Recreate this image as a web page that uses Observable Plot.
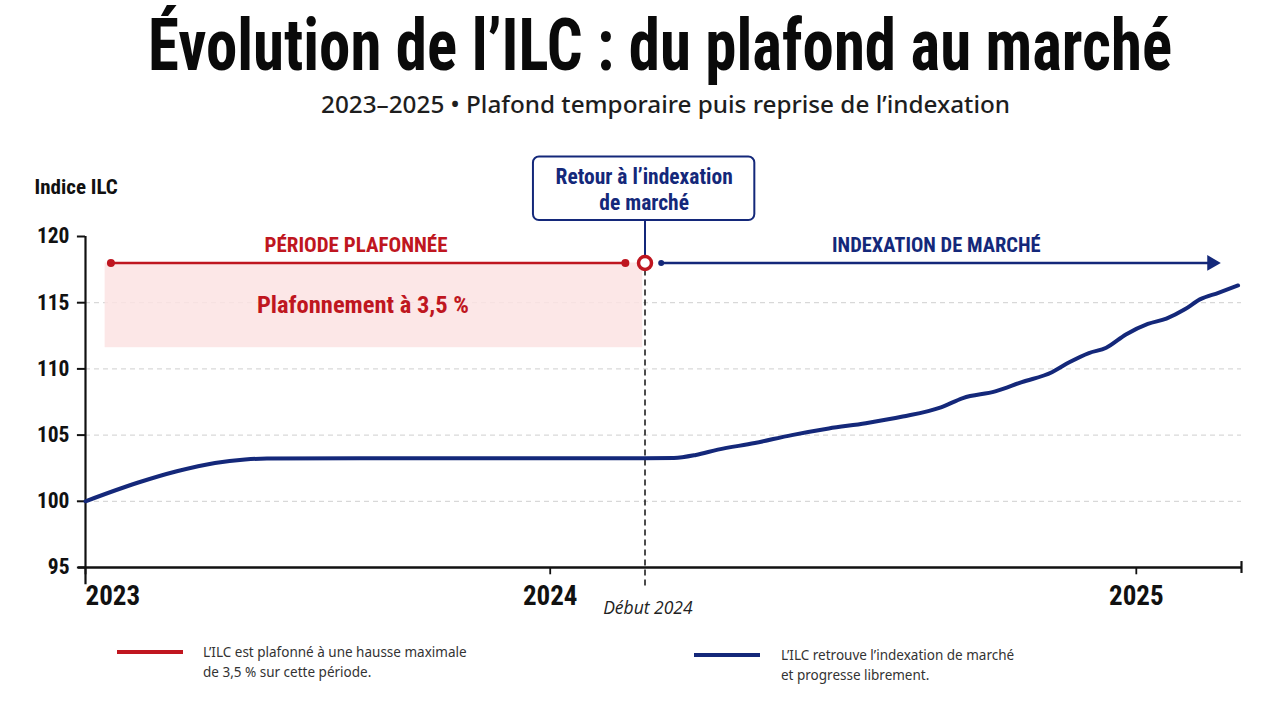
<!DOCTYPE html>
<html lang="fr">
<head>
<meta charset="utf-8">
<title>Évolution de l’ILC : du plafond au marché</title>
<script src="https://cdn.jsdelivr.net/npm/d3@7"></script>
<script src="https://cdn.jsdelivr.net/npm/@observablehq/plot@0.6"></script>
<style>
  html, body { margin: 0; padding: 0; background: #fff; }
  body { width: 1280px; height: 702px; position: relative; overflow: hidden; font-family: "Noto Sans", "Open Sans", sans-serif; color: #111; }
  .cond { font-family: "Roboto Condensed", "Liberation Sans Narrow", "DejaVu Sans Condensed", sans-serif; font-stretch: condensed; }
  #title { position: absolute; left: 0; top: 4px; width: 1320px; text-align: center; font-size: 72px; font-weight: 700; line-height: 84px; color: #0a0a0a; white-space: nowrap; }
  #title span { display: inline-block; transform-origin: 50% 50%; }
  #subtitle { position: absolute; left: 0; top: 87px; width: 1332px; text-align: center; font-size: 24px; font-weight: 500; line-height: 34px; color: #1e1e1e; white-space: nowrap; }
  #subtitle span { display: inline-block; transform-origin: 50% 50%; }
  #chart { position: absolute; left: 0; top: 140px; }
  .legend-swatch { position: absolute; height: 4px; }
  .legend-text { position: absolute; font-size: 13.5px; line-height: 20px; color: #333; white-space: nowrap; }
</style>
</head>
<body>
<div id="title" class="cond"><span>Évolution de l’ILC : du plafond au marché</span></div>
<div id="subtitle"><span>2023–2025 • Plafond temporaire puis reprise de l’indexation</span></div>
<div id="chart"></div>

<div class="legend-swatch" style="left:117px; top:650px; width:66px; background:#c0161f;"></div>
<div class="legend-text" style="left:203px; top:642px;">L’ILC est plafonné à une hausse maximale<br>de 3,5 % sur cette période.</div>
<div class="legend-swatch" style="left:694px; top:653px; width:66px; background:#14287a;"></div>
<div class="legend-text" style="left:781px; top:645px;">L’ILC retrouve l’indexation de marché<br>et progresse librement.</div>

<script>
// Position along the period (0 = début 2023, 100 = fin de la série)
const periode = [0, 4.5, 7.9, 11.2, 13.8, 15.7, 30, 48.4, 50.9, 52.8, 54.7, 57.9, 61.1, 64.3, 67.5, 70.7, 74.0, 75.9, 78.7, 81.0, 83.6, 85.1, 86.8, 88.3, 90.0, 91.9, 93.5, 95.1, 96.4, 98.0, 99.7];
// Indice ILC (base 100 début 2023)
const indice = [100, 101.4, 102.27, 102.9, 103.16, 103.23, 103.25, 103.25, 103.27, 103.5, 103.9, 104.4, 105.0, 105.5, 105.9, 106.4, 107.1, 107.8, 108.3, 109.0, 109.75, 110.5, 111.2, 111.6, 112.6, 113.4, 113.8, 114.5, 115.25, 115.75, 116.3];

// Axes
const xTicks = [0, 40.2, 90.9];
const xTickLabels = ["2023", "2024", "2025"];
const xEnd = 100;
const yTicks = [95, 100, 105, 110, 115, 120];
const gridLevels = [100, 105, 110, 115];

// Annotations
const reprise = 48.4;                 // début 2024
const repriseLabel = "Début 2024";
const niveauBandeau = 118;
const periodePlafonnee = [2.2, 46.7];
const periodeMarche = [49.8, 97.6];
const zonePlafond = {x1: 1.7, x2: 48.2, y1: 111.6, y2: 118};
const labelsPeriodes = ["PÉRIODE PLAFONNÉE", "INDEXATION DE MARCHÉ"];
const labelsPeriodesX = [23.4, 73.6];
const labelPlafond = "Plafonnement à 3,5 %";
const encadre = {x1: 38.75, x2: 57.9, y1: 121.2, y2: 126, texte: "Retour à l’indexation\nde marché"};
const titreAxeY = "Indice ILC";

const data = periode.map((t, i) => ({t, v: indice[i]}));

const ROUGE = "#bf1620";
const BLEU = "#14287a";
const COND = "Roboto Condensed, Liberation Sans Narrow, DejaVu Sans Condensed, sans-serif";

const chart = Plot.plot({
  width: 1280,
  height: 480,
  marginLeft: 85,
  marginRight: 39,
  marginTop: 96,
  marginBottom: 53,
  x: {type: "linear", domain: [0, xEnd], axis: null},
  y: {type: "linear", domain: [95, 120], axis: null},
  style: {fontFamily: COND, overflow: "visible"},
  marks: [
    // horizontal dashed grid
    Plot.ruleY(gridLevels, {x1: 0, x2: xEnd, stroke: "#cfcfcf", strokeWidth: 1, strokeDasharray: "5,4"}),
    // capped zone
    Plot.rect([zonePlafond], {x1: "x1", x2: "x2", y1: "y1", y2: "y2", fill: "#fbe3e3", fillOpacity: 0.85}),
    Plot.text([labelPlafond], {x: labelsPeriodesX[0] + 0.6, y: 114.8, fill: ROUGE, fontSize: 24.5, fontWeight: "bold", fontFamily: COND}),
    // y axis
    Plot.ruleX([0], {y1: 93.7, y2: 120, stroke: "#111", strokeWidth: 2.2}),
    Plot.ruleY(yTicks, {x1: -0.7, x2: 0, stroke: "#111", strokeWidth: 2}),
    Plot.text(yTicks, {x: 0, y: d => d, dx: -16, textAnchor: "end", fontSize: 21.5, fontWeight: "bold", fontFamily: COND, fill: "#111"}),
    Plot.text([titreAxeY], {x: -4.41, y: 123.7, textAnchor: "start", fontSize: 21, fontWeight: "bold", fontFamily: COND, fill: "#111"}),
    // x axis
    Plot.ruleY([95], {x1: -0.6, x2: xEnd, stroke: "#111", strokeWidth: 2.5}),
    Plot.ruleX(xTicks, {y1: 95, y2: 94.45, stroke: "#111", strokeWidth: 1.8}),
    Plot.ruleX([xEnd], {y1: 95.45, y2: 94.55, stroke: "#111", strokeWidth: 2.2}),
    Plot.text(xTicks.slice(0, 1), {x: d => d, y: 95, text: (d, i) => xTickLabels[i], textAnchor: "start", dy: 29, fontSize: 27, fontWeight: "bold", fontFamily: COND, fill: "#111"}),
    Plot.text(xTicks.slice(1), {x: d => d, y: 95, text: (d, i) => xTickLabels[i + 1], textAnchor: "middle", dy: 29, fontSize: 27, fontWeight: "bold", fontFamily: COND, fill: "#111"}),
    Plot.text([repriseLabel], {x: reprise + 0.25, y: 95, dy: 41, fontSize: 17.5, fontStyle: "italic", fontFamily: "Open Sans, Noto Sans, sans-serif", fill: "#222"}),
    // vertical marker at the return to market indexation
    Plot.ruleX([reprise], {y1: 93.6, y2: 117.4, stroke: "#111", strokeWidth: 1.5, strokeDasharray: "6,4"}),
    // ILC series
    Plot.line(data, {x: "t", y: "v", stroke: BLEU, strokeWidth: 4, curve: "monotone-x", strokeLinejoin: "round", strokeLinecap: "round"}),
    // period bands
    Plot.ruleY([niveauBandeau], {x1: periodePlafonnee[0], x2: periodePlafonnee[1], stroke: ROUGE, strokeWidth: 2.5}),
    Plot.dot(periodePlafonnee, {x: d => d, y: niveauBandeau, r: 4, fill: ROUGE}),
    Plot.text([labelsPeriodes[0]], {x: labelsPeriodesX[0], y: 119.35, fill: ROUGE, fontSize: 21, fontWeight: "bold", fontFamily: COND}),
    Plot.ruleY([niveauBandeau], {x1: periodeMarche[0], x2: periodeMarche[1] - 0.3, stroke: BLEU, strokeWidth: 2.5}),
    Plot.dot([periodeMarche[1]], {x: d => d, y: niveauBandeau, symbol: "triangle2", rotate: 90, r: 7.5, fill: BLEU, dx: -2}),
    Plot.dot([periodeMarche[0]], {x: d => d, y: niveauBandeau, r: 3, fill: BLEU}),
    Plot.text([labelsPeriodes[1]], {x: labelsPeriodesX[1], y: 119.35, fill: BLEU, fontSize: 20.5, fontWeight: "bold", fontFamily: COND}),
    // callout box
    Plot.ruleX([reprise], {y1: encadre.y1, y2: 118.5, stroke: BLEU, strokeWidth: 2}),
    Plot.rect([encadre], {x1: "x1", x2: "x2", y1: "y1", y2: "y2", fill: "white", stroke: BLEU, strokeWidth: 2, rx: 6}),
    Plot.text([encadre], {x: d => (d.x1 + d.x2) / 2, y: d => (d.y1 + d.y2) / 2, text: "texte", fill: BLEU, fontSize: 21.5, fontWeight: "bold", fontFamily: COND, lineHeight: 1.2}),
    Plot.dot([reprise], {x: d => d, y: niveauBandeau, r: 6.5, fill: "white", stroke: ROUGE, strokeWidth: 3.5})
  ]
});
document.getElementById("chart").appendChild(chart);

// Fit the title and subtitle to their intended widths
function fit(sel, target) {
  const el = document.querySelector(sel);
  el.style.transform = `scaleX(${target / el.getBoundingClientRect().width})`;
}
fit("#title span", 1024);
fit("#subtitle span", 689);
</script>
</body>
</html>
